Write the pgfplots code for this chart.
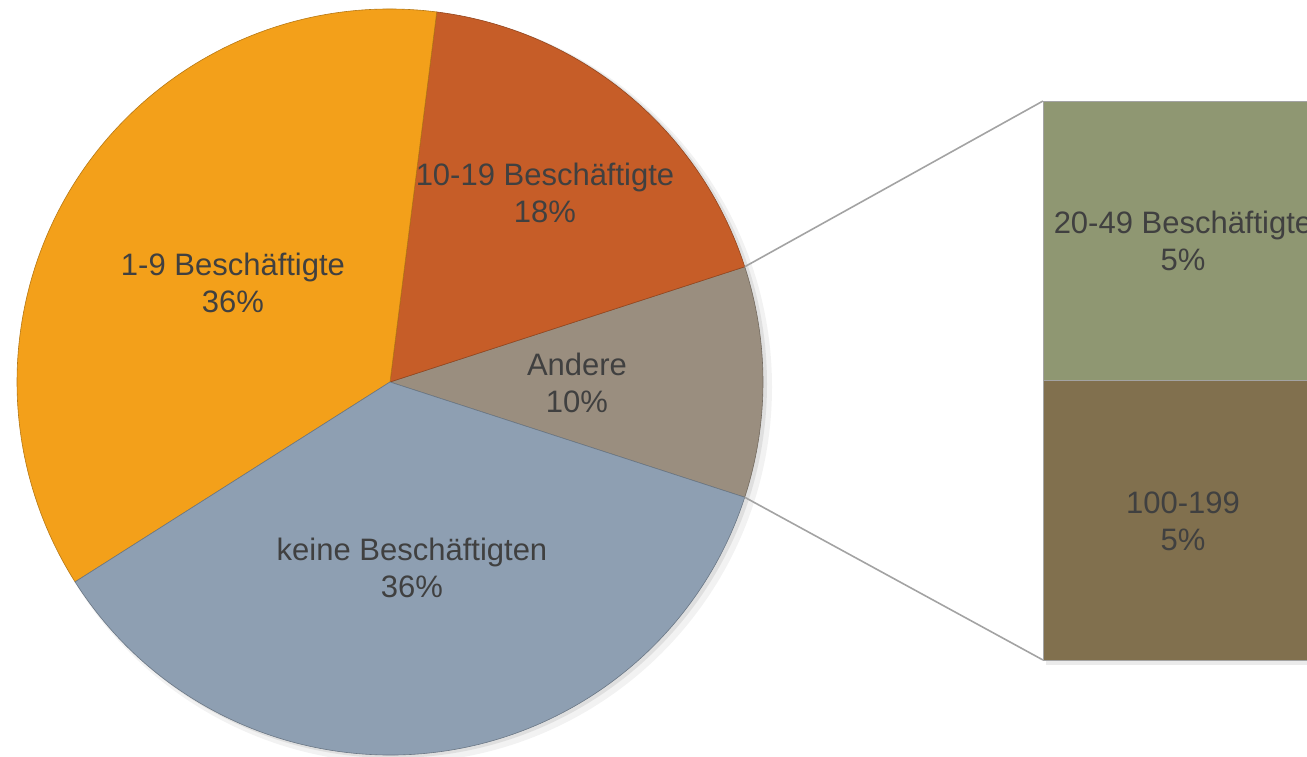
\documentclass[border=0pt]{standalone}
\usepackage{pgfplots}
\pgfplotsset{compat=1.18}
\usepackage{pgfplotstable}
\usepackage{fontspec}
\setmainfont{Liberation Sans}
\definecolor{c0}{HTML}{9A8E7F}
\definecolor{c1}{HTML}{C65D28}
\definecolor{c2}{HTML}{F3A01A}
\definecolor{c3}{HTML}{8E9FB2}
\definecolor{cgreen}{HTML}{8F9772}
\definecolor{cbrown}{HTML}{81704E}
\definecolor{txt}{HTML}{404040}
\definecolor{conn}{HTML}{A3A3A3}
\tikzset{lab/.style={align=center,text=txt,font=\fontsize{31}{37}\selectfont,inner sep=0pt}}

\pgfplotstableread[col sep=comma]{
name,pct
Andere,10
10-19 Beschäftigte,18
1-9 Beschäftigte,36
keine Beschäftigten,36
}\pietable
\pgfplotstableread[col sep=comma]{
name,pct
20-49 Beschäftigte,5
100-199,5
}\bartable

% slice angles from the percentages (Andere centred on 0 degrees)
\pgfplotstablegetelem{0}{pct}\of\pietable
\pgfmathsetmacro\cur{-1.8*\pgfplotsretval}
\xdef\cur{\cur}
\pgfplotsinvokeforeach{0,...,3}{%
  \pgfplotstablegetelem{#1}{pct}\of\pietable
  \pgfmathsetmacro\nxt{\cur+3.6*\pgfplotsretval}%
  \expandafter\xdef\csname sliceS#1\endcsname{\cur}%
  \expandafter\xdef\csname sliceE#1\endcsname{\nxt}%
  \xdef\cur{\nxt}%
}
% bar boundaries (pixels per percent: 55.9)
\xdef\bcur{101}
\pgfplotsinvokeforeach{0,1}{%
  \pgfplotstablegetelem{#1}{pct}\of\bartable
  \pgfmathsetmacro\bnxt{\bcur+55.9*\pgfplotsretval}%
  \expandafter\xdef\csname barS#1\endcsname{\bcur}%
  \expandafter\xdef\csname barE#1\endcsname{\bnxt}%
  \xdef\bcur{\bnxt}%
}

\begin{document}
\begin{tikzpicture}
\useasboundingbox (0,0) rectangle (1307pt,756pt);
\begin{axis}[x=1pt,y=1pt,xmin=0,xmax=1307,ymin=0,ymax=756,y dir=reverse,
  hide axis,scale only axis,clip=false,anchor=south west,at={(0,0)}]
  % soft shadow of the pie
  \fill[black,opacity=0.05] (axis cs:396,387) circle[radius=376pt];
  \fill[black,opacity=0.08] (axis cs:393,384) circle[radius=374pt];
  % pie slices
  \pgfplotsinvokeforeach{0,...,3}{
    \fill[c#1, draw=c#1!75!black, line width=0.6pt] (axis cs:390,382)
      -- ++(\csname sliceS#1\endcsname:373pt)
      arc[start angle=\csname sliceS#1\endcsname, end angle=\csname sliceE#1\endcsname, radius=373pt]
      -- cycle;
  }
  % connector lines
  \draw[conn, line width=1.6pt] (axis cs:390,382) ++(\csname sliceE0\endcsname:373pt) -- (axis cs:1043,\csname barS0\endcsname);
  \draw[conn, line width=1.6pt] (axis cs:390,382) ++(\csname sliceS0\endcsname:373pt) -- (axis cs:1043,\csname barE1\endcsname);
  % bar shadow
  \fill[black,opacity=0.08] (axis cs:1046,104) rectangle (axis cs:1330,665);
  % bar
  \fill[cgreen, draw=conn, line width=1pt] (axis cs:1043,\csname barS0\endcsname) rectangle (axis cs:1330,\csname barE0\endcsname);
  \fill[cbrown, draw=conn, line width=1pt] (axis cs:1043,\csname barS1\endcsname) rectangle (axis cs:1330,\csname barE1\endcsname);
  % labels
  \node[lab] at (axis cs:233,283) {1-9 Beschäftigte\\36\%};
  \node[lab] at (axis cs:545,193) {10-19 Beschäftigte\\18\%};
  \node[lab] at (axis cs:577,383) {Andere\\10\%};
  \node[lab] at (axis cs:412,568) {keine Beschäftigten\\36\%};
  \node[lab] at (axis cs:1183,241) {20-49 Beschäftigte\\5\%};
  \node[lab] at (axis cs:1183,521) {100-199\\5\%};
\end{axis}
\end{tikzpicture}
\end{document}
